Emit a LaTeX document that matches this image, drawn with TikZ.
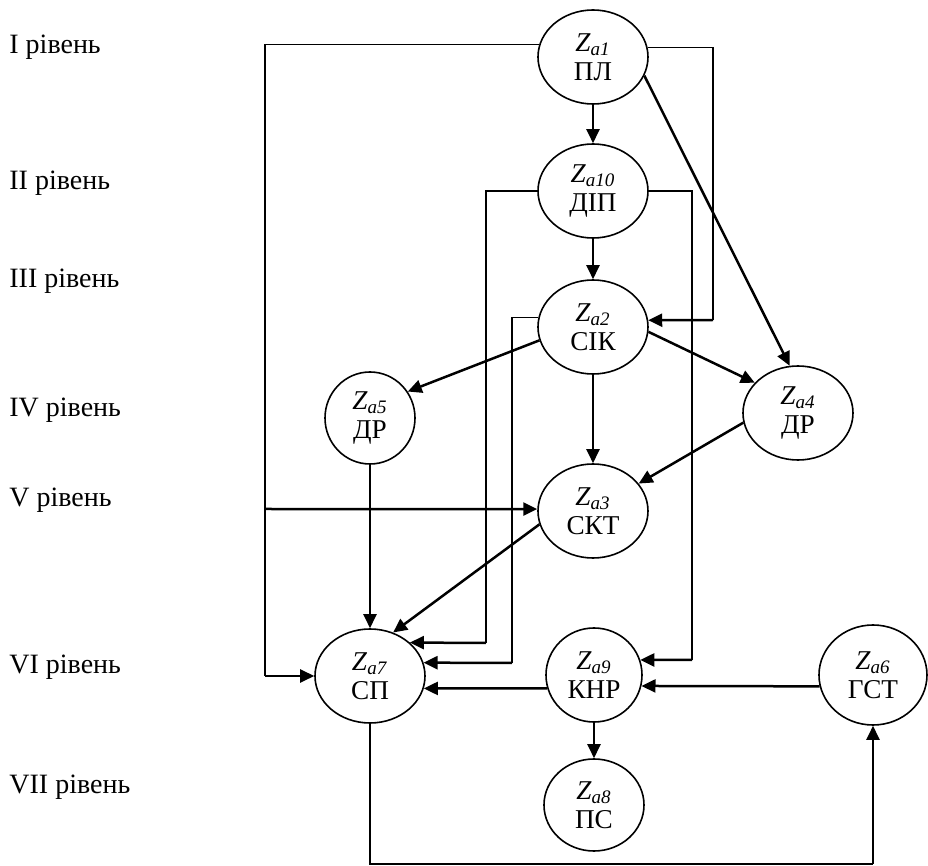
\documentclass[tikz,border=0pt]{standalone}
\usepackage{fontspec}
\setmainfont{Liberation Serif}
\usetikzlibrary{shapes.geometric,arrows.meta}

\newcommand{\za}[2]{\textit{Z}\textsubscript{\textit{a#1}}\\#2}

\begin{document}
\begin{tikzpicture}[
    x=.5pt,
    y=-.5pt,
    state/.style={ellipse,draw,line width=.8pt,inner sep=0pt,minimum width=55pt,minimum height=47pt,align=center,font=\fontsize{13.6}{14.5}\selectfont},
    level/.style={anchor=west,inner sep=0pt,font=\fontsize{14}{16}\selectfont},
    link/.style={line width=1.25pt,-{Triangle[length=7pt,width=6.5pt]}},
    wire/.style={line width=.7pt}
  ]
  \useasboundingbox (0,0) rectangle (928,866);
  \node[level] (lvl1) at (9,47) {I рівень};
  \node[level] (lvl2) at (9,183) {II рівень};
  \node[level] (lvl3) at (9,281) {III рівень};
  \node[level] (lvl4) at (9,410) {IV рівень};
  \node[level] (lvl5) at (9,500) {V рівень};
  \node[level] (lvl6) at (9,667) {VI рівень};
  \node[level] (lvl7) at (9,787) {VII рівень};

  \node[state] (a1) at (593,57) {\za{1}{ПЛ}};
  \node[state] (a10) at (593,191) {\za{10}{ДІП}};
  \node[state] (a2) at (593,327) {\za{2}{СІК}};
  \node[state,minimum width=45pt,minimum height=46pt] (a5) at (370,418) {\za{5}{ДР}};
  \node[state] (a4) at (798,413) {\za{4}{ДР}};
  \node[state] (a3) at (593,511) {\za{3}{СКТ}};
  \node[state] (a7) at (370,676) {\za{7}{СП}};
  \node[state,minimum width=48pt] (a9) at (594,675) {\za{9}{КНР}};
  \node[state,minimum width=54pt,minimum height=50pt] (a6) at (873,675) {\za{6}{ГСТ}};
  \node[state,minimum width=50pt,minimum height=46pt] (a8) at (594,805) {\za{8}{ПС}};

  \coordinate (k2) at (265,676);
  \coordinate (k3) at (265,509);
  \coordinate (k5) at (713,320);
  \coordinate (k7) at (486,643);
  \coordinate (k9) at (692,660);
  \coordinate (k11) at (512,663);
  \coordinate (k13) at (873,864);

  \draw[link] (a1) -- (a10);
  \draw[link] (a10) -- (a2);
  \draw[link] (a2) -- (a3);
  \draw[link] (a1.340) -- (a4.100);
  \draw[link] (a2.194) -- (a5.35);
  \draw[link] (a2.355) -- (a4.145);
  \draw[link] (a4.190) -- (a3.31);
  \draw[link] (a5) -- (a7);
  \draw[link] (a3.194) -- (a7.62);
  \draw[link] (a9.196) -- (a7.347);
  \draw[link] (a6.192) -- (a9.347);
  \draw[link] (a9) -- (a8);

  \draw[wire] (a1.167) -| (k2);
  \draw[link] (k2) -- (a7);
  \draw[link] (k3) -- (a3.178);
  \draw[wire] (a1.10) -| (k5);
  \draw[link] (k5) -- (a2.7);
  \draw[wire] (a10.west) -| (k7);
  \draw[link] (k7) -- (a7.40);
  \draw[wire] (a10.east) -| (k9);
  \draw[link] (k9) -- (a9.18);
  \draw[wire] (a2.170) -| (k11);
  \draw[link] (k11) -- (a7.14);
  \draw[wire] (a7.south) |- (k13);
  \draw[link] (k13) -- (a6.south);
\end{tikzpicture}
\end{document}
